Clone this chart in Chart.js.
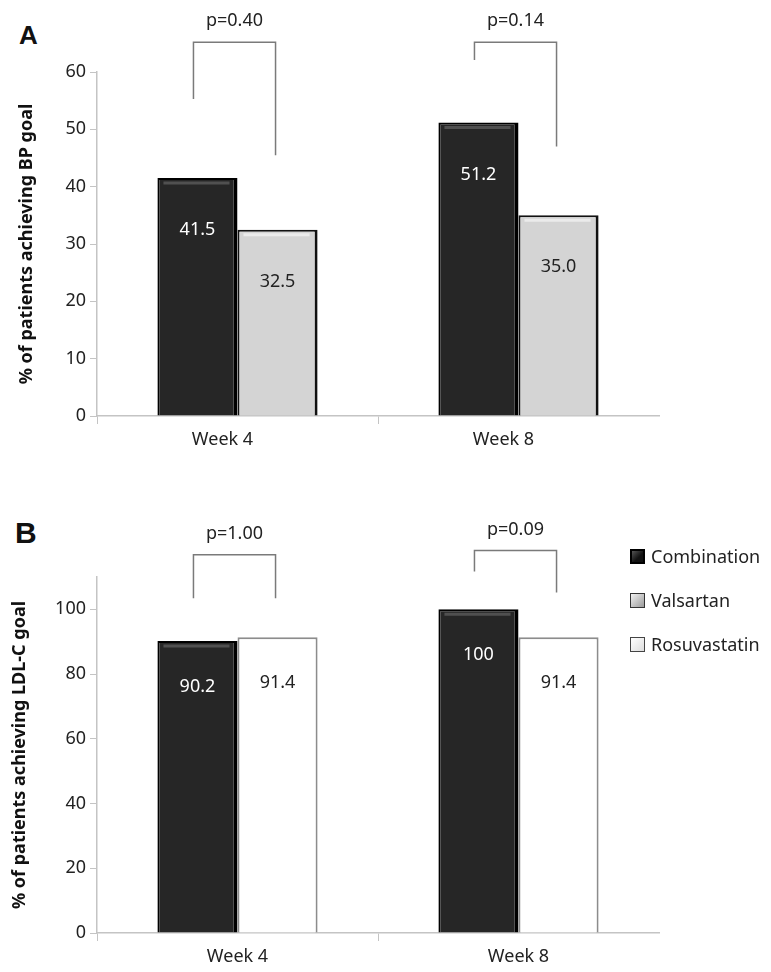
<!DOCTYPE html>
<html>
<head>
<meta charset="utf-8">
<script src="https://cdn.jsdelivr.net/npm/chart.js@4.4.1/dist/chart.umd.min.js"></script>
<style>
    body { margin: 0; background: #fff; width: 771px; height: 972px; position: relative; overflow: hidden; font-family: "Noto Sans", sans-serif; color: #222; }
    .panel { position: absolute; left: 0; width: 771px; }
    #panelA { top: 0; height: 470px; }
    #panelB { top: 480px; height: 492px; }
    .letter { position: absolute; font-family: "Liberation Sans", Arial, sans-serif; font-weight: bold; color: #111; line-height: 1; }
    #legend { position: absolute; left: 630px; top: 534px; }
    .item { display: flex; align-items: center; height: 44px; font-size: 18px; color: #222; }
    .sw { width: 15px; height: 15px; margin-right: 6px; box-sizing: border-box; }
</style>
</head>
<body>
<div class="letter" style="left:19px;top:22px;font-size:26px;">A</div>
<div class="letter" style="left:15px;top:518px;font-size:30px;">B</div>
<div class="panel" id="panelA"><canvas id="chartA"></canvas></div>
<div class="panel" id="panelB"><canvas id="chartB"></canvas></div>
<div id="legend"></div>

<script>
// data
const weeks = ['Week 4', 'Week 8'];
const bpCombination = [41.5, 51.2];
const bpValsartan = [32.5, 35.0];
const ldlCombination = [90.2, 100];
const ldlRosuvastatin = [91.4, 91.4];
const bpPValues = ['p=0.40', 'p=0.14'];
const ldlPValues = ['p=1.00', 'p=0.09'];
// brackets per week: [top, left leg end, right leg end] in axis units
const bpBrackets = [[65.2, 55.3, 45.5], [65.2, 62.1, 47.0]];
const ldlBrackets = [[116.9, 103.4, 103.4], [118.2, 111.7, 105.2]];
const legendNames = ['Combination', 'Valsartan', 'Rosuvastatin'];

const FONT = '"Noto Sans", sans-serif';

function fmt(v) {
    return v === 100 ? '100' : v.toFixed(1);
}

// value labels, bevel lines and p-value brackets
const annotate = {
    id: 'annotate',
    afterDatasetsDraw(chart, args, opts) {
        const ctx = chart.ctx;
        const y = chart.scales.y;
        ctx.save();
        chart.data.datasets.forEach((ds, i) => {
            chart.getDatasetMeta(i).data.forEach((bar, j) => {
                const half = bar.width / 2;
                // bevel highlight along the top
                if (opts.bevel[i]) {
                    ctx.strokeStyle = opts.bevel[i];
                    ctx.lineWidth = 3;
                    ctx.beginPath();
                    ctx.moveTo(bar.x - half + 6, bar.y + 5);
                    ctx.lineTo(bar.x + half - 8, bar.y + 5);
                    ctx.stroke();
                }
                ctx.font = '18px ' + FONT;
                ctx.textAlign = 'center';
                ctx.textBaseline = 'middle';
                ctx.fillStyle = opts.labelColors[i];
                ctx.fillText(fmt(ds.data[j]), bar.x, bar.y + opts.labelOffset);
            });
        });
        const m0 = chart.getDatasetMeta(0).data;
        const m1 = chart.getDatasetMeta(1).data;
        opts.brackets.forEach((b, j) => {
            const xl = m0[j].x - 4, xr = m1[j].x - 2;
            const yt = y.getPixelForValue(b[0]);
            ctx.strokeStyle = '#7a7a7a';
            ctx.lineWidth = 1.5;
            ctx.beginPath();
            ctx.moveTo(xl, y.getPixelForValue(b[1]));
            ctx.lineTo(xl, yt);
            ctx.lineTo(xr, yt);
            ctx.lineTo(xr, y.getPixelForValue(b[2]));
            ctx.stroke();
            ctx.font = '18px ' + FONT;
            ctx.fillStyle = '#222';
            ctx.textAlign = 'center';
            ctx.textBaseline = 'middle';
            ctx.fillText(opts.pValues[j], (xl + xr) / 2, yt - 21);
        });
        ctx.restore();
    }
};

function makeChart(id, cfg) {
    return new Chart(document.getElementById(id), {
        type: 'bar',
        data: {
            labels: weeks,
            datasets: cfg.datasets
        },
        options: {
            responsive: true,
            maintainAspectRatio: false,
            animation: false,
            layout: { padding: { left: 0, right: 112, top: cfg.top, bottom: 0 } },
            plugins: {
                legend: { display: false },
                tooltip: { enabled: false },
                annotate: cfg.annotate
            },
            scales: {
                x: {
                    grid: {
                        offset: true,
                        drawOnChartArea: false,
                        drawTicks: true,
                        tickLength: 8,
                        // no tick mark at the far right end
                        color: (c) => c.type === 'tick' ? '#c4c4c4' : 'rgba(0,0,0,0)'
                    },
                    border: { color: '#c4c4c4', width: 1.5 },
                    ticks: { color: '#222', font: { family: FONT, size: 18 }, padding: 5, labelOffset: cfg.labelOffset },
                    afterFit: (s) => { s.height = cfg.xHeight; }
                },
                y: {
                    min: 0,
                    max: cfg.max,
                    afterBuildTicks: (s) => { s.ticks = s.ticks.filter(t => t.value <= cfg.lastTick); },
                    ticks: { stepSize: cfg.step, color: '#222', font: { family: FONT, size: 18 }, padding: 4 },
                    grid: { drawOnChartArea: false, drawTicks: true, tickLength: 7, color: '#c4c4c4' },
                    border: { color: '#c4c4c4', width: 1.5 },
                    title: {
                        display: true,
                        text: cfg.title,
                        color: '#111',
                        font: { family: FONT, size: 18, weight: 'bold' },
                        padding: { top: cfg.titlePad, bottom: 0 }
                    },
                    afterFit: (s) => { s.width = 97; }
                }
            }
        },
        plugins: [annotate]
    });
}

makeChart('chartA', {
    top: 72,
    xHeight: 54,
    max: 60,
    step: 10,
    lastTick: 60,
    labelOffset: -15,
    titlePad: 16,
    title: '% of patients achieving BP goal',
    datasets: [
        {
            label: legendNames[0],
            data: bpCombination,
            backgroundColor: '#262626',
            borderColor: '#000',
            borderWidth: { left: 2, right: 4, top: 2, bottom: 0 },
            categoryPercentage: 0.57,
            barPercentage: 1.0
        },
        {
            label: legendNames[1],
            data: bpValsartan,
            backgroundColor: '#d4d4d4',
            borderColor: '#111',
            borderWidth: { left: 2, right: 3, top: 2, bottom: 0 },
            categoryPercentage: 0.57,
            barPercentage: 1.0
        }
    ],
    annotate: {
        labelOffset: 52,
        labelColors: ['#fff', '#222'],
        bevel: ['#505050', '#ebebeb'],
        brackets: bpBrackets,
        pValues: bpPValues
    }
});

makeChart('chartB', {
    top: 97,
    xHeight: 39,
    max: 110,
    step: 20,
    lastTick: 100,
    labelOffset: 0,
    titlePad: 9,
    title: '% of patients achieving LDL-C goal',
    datasets: [
        {
            label: legendNames[0],
            data: ldlCombination,
            backgroundColor: '#262626',
            borderColor: '#000',
            borderWidth: { left: 2, right: 4, top: 2, bottom: 0 },
            categoryPercentage: 0.57,
            barPercentage: 1.0
        },
        {
            label: legendNames[2],
            data: ldlRosuvastatin,
            backgroundColor: '#fff',
            borderColor: '#8c8c8c',
            borderWidth: 2,
            categoryPercentage: 0.57,
            barPercentage: 1.0
        }
    ],
    annotate: {
        labelOffset: 46,
        labelColors: ['#fff', '#222'],
        bevel: ['#505050', null],
        brackets: ldlBrackets,
        pValues: ldlPValues
    }
});

// legend
const swatchStyles = [
    'background:linear-gradient(135deg,#555,#111 60%);border:2px solid #000;',
    'background:linear-gradient(135deg,#f2f2f2,#9a9a9a);border:1.5px solid #333;',
    'background:linear-gradient(135deg,#fff,#ddd);border:1.5px solid #444;'
];
const legend = document.getElementById('legend');
legendNames.forEach((name, i) => {
    const row = document.createElement('div');
    row.className = 'item';
    row.innerHTML = '<div class="sw" style="' + swatchStyles[i] + '"></div><span>' + name + '</span>';
    legend.appendChild(row);
});
</script>
</body>
</html>
